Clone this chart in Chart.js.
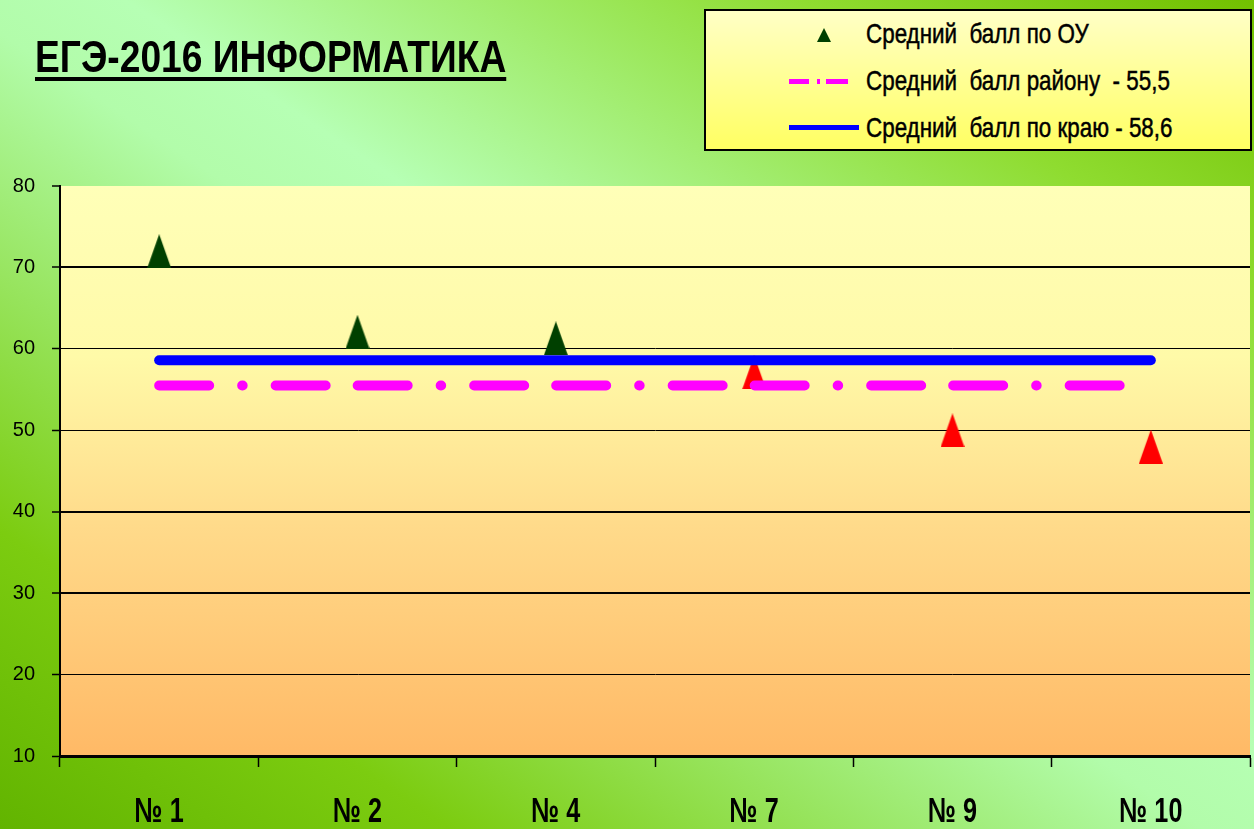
<!DOCTYPE html>
<html lang="ru">
<head>
<meta charset="utf-8">
<title>ЕГЭ-2016 ИНФОРМАТИКА</title>
<script src="https://cdn.jsdelivr.net/npm/chart.js@4/dist/chart.umd.min.js"></script>
<style>
    html, body {
        margin: 0;
        padding: 0;
        width: 1254px;
        height: 829px;
        overflow: hidden;
    }
    body {
        position: relative;
        background: linear-gradient(to top right, #62b400 0%, #7ccc10 18%, #b2fcaa 48%, #b6ffb4 55%, #8fdc30 82%, #72c000 100%);
        font-family: 'Liberation Sans', Arial, sans-serif;
    }
    #chart {
        position: absolute;
        left: 0;
        top: 0;
    }
    .title {
        position: absolute;
        left: 35px;
        top: 35px;
        font-size: 44px;
        line-height: 44px;
        font-weight: bold;
        color: #000;
        text-decoration: underline;
        text-decoration-thickness: 4px;
        text-underline-offset: 5px;
        white-space: nowrap;
        transform: scaleX(0.845);
        transform-origin: 0 0;
    }
    .legend {
        position: absolute;
        left: 704px;
        top: 9px;
        width: 544px;
        height: 138px;
        border: 2px solid #000;
        background: linear-gradient(to bottom, #ffffc6, #ffff62);
    }
    .legend .item {
        position: absolute;
        left: 160px;
        font-size: 28px;
        line-height: 28px;
        color: #000;
        white-space: nowrap;
        -webkit-text-stroke: 0.5px #000;
        transform: scaleX(0.8);
        transform-origin: 0 0;
    }
    .legend .tri {
        position: absolute;
        left: 111px;
        top: 17px;
        width: 0;
        height: 0;
        border-left: 7px solid transparent;
        border-right: 7px solid transparent;
        border-bottom: 14px solid #004000;
    }
    .legend .dash {
        position: absolute;
        top: 68px;
        height: 5px;
        background: #ff00ff;
    }
    .legend .solid {
        position: absolute;
        left: 83px;
        top: 114px;
        width: 70px;
        height: 5px;
        background: #0000ff;
    }
</style>
</head>
<body>
<canvas id="chart" width="1254" height="829"></canvas>
<div class="title">ЕГЭ-2016 ИНФОРМАТИКА</div>
<div class="legend">
    <div class="tri"></div>
    <div class="item" style="top: 9px;">Средний&nbsp; балл по ОУ</div>
    <div class="dash" style="left: 83px; width: 20px;"></div>
    <div class="dash" style="left: 111px; width: 3px;"></div>
    <div class="dash" style="left: 120px; width: 22px;"></div>
    <div class="item" style="top: 56px;">Средний&nbsp; балл району&nbsp; - 55,5</div>
    <div class="solid"></div>
    <div class="item" style="top: 103px;">Средний&nbsp; балл по краю - 58,6</div>
</div>
<script>
// --- данные ---
const schools = ['№ 1', '№ 2', '№ 4', '№ 7', '№ 9', '№ 10'];
const schoolAvg = [72.0, 62.1, 61.3, 57.1, 50.0, 48.0];
const districtAvg = 55.5;
const krayAvg = 58.6;
const yMin = 10;
const yMax = 80;
const yStep = 10;

// треугольные маркеры (вытянутые, как в оригинале)
function makeTriangle(color) {
    const c = document.createElement('canvas');
    c.width = 24;
    c.height = 34;
    const g = c.getContext('2d');
    g.fillStyle = color;
    g.beginPath();
    g.moveTo(0, 34);
    g.lineTo(12, 0);
    g.lineTo(24, 34);
    g.closePath();
    g.fill();
    return c;
}
const greenTri = makeTriangle('#004000');
const redTri = makeTriangle('#ff0000');

// фон области построения
const plotBackground = {
    id: 'plotBackground',
    beforeDraw(chart) {
        const { ctx, chartArea } = chart;
        const grad = ctx.createLinearGradient(0, chartArea.top, 0, chartArea.bottom);
        grad.addColorStop(0, '#ffffb8');
        grad.addColorStop(0.3, '#fffaa8');
        grad.addColorStop(0.6, '#ffda8a');
        grad.addColorStop(1, '#ffb966');
        ctx.save();
        ctx.fillStyle = grad;
        ctx.fillRect(chartArea.left, chartArea.top, chartArea.right - chartArea.left, chartArea.bottom - chartArea.top);
        ctx.restore();
    }
};

// подписи оси X узким жирным шрифтом (в Chart.js нельзя сжать шрифт по ширине)
const narrowXLabels = {
    id: 'narrowXLabels',
    afterDraw(chart) {
        const { ctx } = chart;
        const xs = chart.scales.x;
        ctx.save();
        ctx.font = 'bold 35px "Liberation Sans", Arial';
        ctx.fillStyle = '#000';
        ctx.textAlign = 'center';
        ctx.textBaseline = 'alphabetic';
        xs.ticks.forEach((t, i) => {
            ctx.save();
            ctx.translate(xs.getPixelForTick(i), 822);
            ctx.scale(0.72, 1);
            ctx.fillText(xs.getLabelForValue(t.value), 0, 0);
            ctx.restore();
        });
        ctx.restore();
    }
};

const ctx = document.getElementById('chart').getContext('2d');
new Chart(ctx, {
    type: 'line',
    data: {
        labels: schools,
        datasets: [
            {
                label: 'Средний балл по ОУ',
                data: schoolAvg,
                showLine: false,
                pointStyle: c => (schoolAvg[c.dataIndex] >= krayAvg ? greenTri : redTri),
                pointRadius: 17,
                pointHoverRadius: 17,
                order: 3
            },
            {
                label: 'Средний балл району - 55,5',
                data: schools.map(() => districtAvg),
                borderColor: '#ff00ff',
                borderWidth: 10,
                borderCapStyle: 'round',
                borderDash: [50, 33, 0.5, 33, 50, 32],
                pointRadius: 0,
                fill: false,
                order: 2
            },
            {
                label: 'Средний балл по краю - 58,6',
                data: schools.map(() => krayAvg),
                borderColor: '#0000ff',
                borderWidth: 10,
                borderCapStyle: 'round',
                pointRadius: 0,
                fill: false,
                order: 1
            }
        ]
    },
    options: {
        responsive: false,
        devicePixelRatio: 1,
        animation: false,
        layout: {
            autoPadding: false,
            padding: { left: 0, top: 186, right: 4, bottom: 0 }
        },
        plugins: {
            legend: { display: false },
            tooltip: { enabled: false }
        },
        scales: {
            x: {
                offset: true,
                afterFit: scale => {
                    scale.height = 73;
                    scale.paddingLeft = 0;
                    scale.paddingRight = 0;
                },
                border: { display: true, color: '#000', width: 3 },
                grid: {
                    offset: true,
                    drawOnChartArea: false,
                    drawTicks: true,
                    tickLength: 11,
                    tickWidth: 1.5,
                    tickColor: '#000',
                    color: '#000'
                },
                ticks: { display: false }
            },
            y: {
                min: yMin,
                max: yMax,
                afterFit: scale => { scale.width = 60; },
                border: { display: true, color: '#000', width: 2 },
                grid: {
                    color: '#000',
                    lineWidth: c => {
                        const v = c.tick ? c.tick.value : 0;
                        if (v === yMax) return 0;
                        return [70, 40, 30].includes(v) ? 2 : 1;
                    },
                    drawTicks: true,
                    tickLength: 8,
                    tickWidth: 1.5,
                    tickColor: '#000'
                },
                ticks: {
                    stepSize: yStep,
                    color: '#000',
                    padding: 17,
                    font: { family: "'Liberation Sans', Arial", size: 20 }
                }
            }
        }
    },
    plugins: [plotBackground, narrowXLabels]
});
</script>
</body>
</html>
